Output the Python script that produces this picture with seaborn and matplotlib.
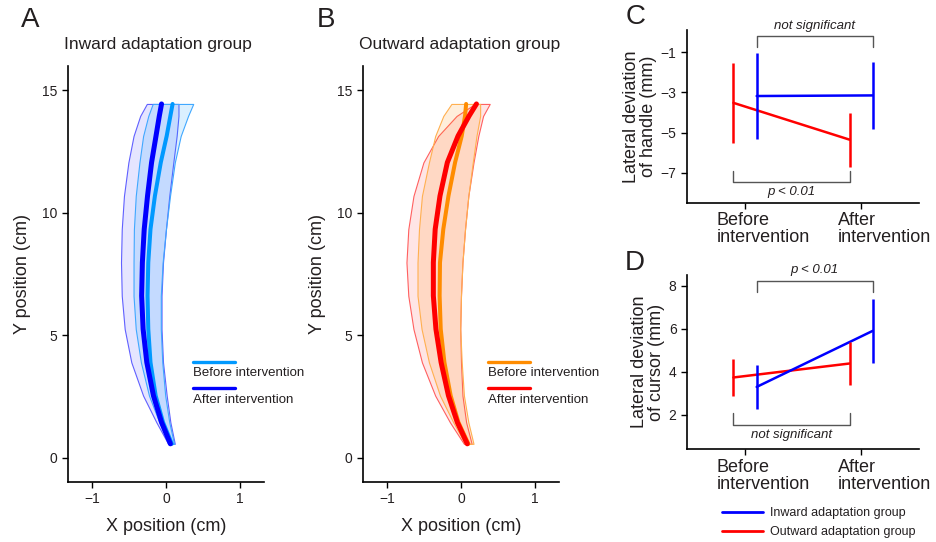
import numpy as np
import pandas as pd
import matplotlib
matplotlib.use("Agg")
import matplotlib.pyplot as plt
import matplotlib.transforms as mtransforms
from matplotlib.lines import Line2D
import seaborn as sns

sns.set_style("ticks")
plt.rcParams["font.family"] = ["Liberation Sans", "DejaVu Sans"]
plt.rcParams["axes.unicode_minus"] = True

TXT = "#231f20"

# ------------------------------------------------------------------
# DATA
# ------------------------------------------------------------------
# hand trajectories, sampled along the Y axis (cm), bottom -> top
y_pos = [0.56, 1.44, 2.53, 3.89, 5.25, 6.61, 7.97, 9.33, 10.69, 12.06,
         13.14, 13.96, 14.45]

# Inward adaptation group
in_before_mean = [0.08, -0.04, -0.14, -0.21, -0.24, -0.25, -0.24, -0.21,
                  -0.15, -0.07, 0.01, 0.06, 0.09]
in_before_lo   = [0.045, -0.09, -0.23, -0.34, -0.41, -0.44, -0.44, -0.435,
                  -0.41, -0.36, -0.31, -0.24, -0.18]
in_before_hi   = [0.11, 0.045, -0.01, -0.05, -0.07, -0.07, -0.045, 0.0,
                  0.055, 0.12, 0.20, 0.30, 0.37]
in_after_mean  = [0.06, -0.06, -0.17, -0.26, -0.31, -0.33, -0.32, -0.295,
                  -0.25, -0.195, -0.135, -0.09, -0.06]
in_after_lo    = [0.03, -0.13, -0.31, -0.47, -0.56, -0.60, -0.61, -0.60,
                  -0.57, -0.51, -0.44, -0.35, -0.26]
in_after_hi    = [0.12, 0.06, 0.01, -0.04, -0.06, -0.06, -0.04, 0.0,
                  0.045, 0.10, 0.145, 0.17, 0.17]

# Outward adaptation group
out_before_mean = [0.10, -0.035, -0.14, -0.225, -0.275, -0.29, -0.285, -0.24,
                   -0.17, -0.08, 0.01, 0.055, 0.07]
out_before_lo   = [0.055, -0.105, -0.285, -0.435, -0.535, -0.59, -0.59, -0.57,
                   -0.53, -0.435, -0.35, -0.24, -0.13]
out_before_hi   = [0.17, 0.10, 0.04, 0.01, -0.01, 0.0, 0.02, 0.055,
                   0.10, 0.16, 0.21, 0.26, 0.26]
out_after_mean  = [0.085, -0.05, -0.17, -0.27, -0.34, -0.375, -0.375, -0.35,
                   -0.285, -0.185, -0.04, 0.11, 0.21]
out_after_lo    = [0.04, -0.15, -0.35, -0.53, -0.645, -0.715, -0.74, -0.715,
                   -0.645, -0.51, -0.31, -0.06, 0.19]
out_after_hi    = [0.145, 0.07, 0.02, 0.0, -0.01, 0.0, 0.02, 0.055,
                   0.10, 0.17, 0.235, 0.30, 0.39]

# lateral deviation (mm): mean and error, before / after intervention
conditions      = ["Before\nintervention", "After\nintervention"]
groups          = ["Inward adaptation group", "Outward adaptation group"]
handle_in_mean  = [-3.18, -3.15]
handle_in_err   = [2.12, 1.65]
handle_out_mean = [-3.52, -5.35]
handle_out_err  = [1.98, 1.35]
cursor_in_mean  = [3.29, 5.9]
cursor_in_err   = [1.04, 1.5]
cursor_out_mean = [3.73, 4.38]
cursor_out_err  = [0.88, 0.98]

BLUE, LBLUE = "#0000ff", "#0099ff"
RED, ORANGE = "#ff0000", "#ff8c00"

# ------------------------------------------------------------------
# FIGURE LAYOUT
# ------------------------------------------------------------------
fig = plt.figure(figsize=(9.36, 5.42), dpi=100)
ax_a = fig.add_axes([0.0726, 0.1107, 0.2094, 0.7675])
ax_b = fig.add_axes([0.3878, 0.1107, 0.2094, 0.7675])
ax_c = fig.add_axes([0.734, 0.6255, 0.248, 0.319])
ax_d = fig.add_axes([0.734, 0.1716, 0.248, 0.321])


def style_axis(ax):
    sns.despine(ax=ax)
    for s in ("left", "bottom"):
        ax.spines[s].set_linewidth(1.2)
        ax.spines[s].set_color("black")
    ax.tick_params(direction="out", length=4, width=1.0, colors="black",
                   labelcolor=TXT, labelsize=10)


# ------------------------------------------------------------------
# PANELS A / B – trajectories
# ------------------------------------------------------------------
def trajectory_panel(ax, title, b_mean, b_lo, b_hi, a_mean, a_lo, a_hi,
                     c_before, c_after, band_a, edge_a, band_b, edge_b):
    ax.fill_betweenx(y_pos, a_lo, a_hi, facecolor=band_a, edgecolor=edge_a,
                     linewidth=0.8, zorder=1)
    ax.fill_betweenx(y_pos, b_lo, b_hi, facecolor=band_b, edgecolor=edge_b,
                     linewidth=0.8, zorder=2)
    traj = pd.DataFrame({"x_before": b_mean, "x_after": a_mean, "y": y_pos})
    sns.lineplot(data=traj, x="x_before", y="y", sort=False, estimator=None,
                 color=c_before, lw=2.9, ax=ax, zorder=3,
                 solid_joinstyle="round")
    sns.lineplot(data=traj, x="x_after", y="y", sort=False, estimator=None,
                 color=c_after, lw=3.6, ax=ax, zorder=4,
                 solid_joinstyle="round")
    ax.set_xlim(-1.33, 1.33)
    ax.set_ylim(-1, 16)
    ax.set_xticks([-1, 0, 1])
    ax.set_yticks([0, 5, 10, 15])
    ax.set_xlabel("X position (cm)", fontsize=13, color=TXT, labelpad=8)
    ax.set_ylabel("Y position (cm)", fontsize=13, color=TXT, labelpad=8)
    ax.set_title(title, fontsize=12.5, color=TXT, loc="left", x=-0.02, pad=12)
    style_axis(ax)

    # legend: key line above its label
    for yl, yt, col, lab in [(0.288, 0.262, c_before, "Before intervention"),
                             (0.226, 0.197, c_after, "After intervention")]:
        ax.plot([0.638, 0.852], [yl, yl], color=col, lw=2.4,
                transform=ax.transAxes, clip_on=False)
        ax.text(0.638, yt, lab, transform=ax.transAxes, fontsize=9.5,
                color=TXT, va="center", ha="left")


trajectory_panel(ax_a, "Inward adaptation group",
                 in_before_mean, in_before_lo, in_before_hi,
                 in_after_mean, in_after_lo, in_after_hi,
                 LBLUE, BLUE, (0, 0, 1, 0.10), "#6060ff",
                 (0, 0.6, 1, 0.14), "#40a8ff")
trajectory_panel(ax_b, "Outward adaptation group",
                 out_before_mean, out_before_lo, out_before_hi,
                 out_after_mean, out_after_lo, out_after_hi,
                 ORANGE, RED, (1, 0, 0, 0.10), "#ff6060",
                 (1, 0.55, 0, 0.14), "#ffb050")

# ------------------------------------------------------------------
# PANELS C / D – lateral deviation
# ------------------------------------------------------------------
DODGE = {"Inward adaptation group": 0.1, "Outward adaptation group": -0.1}
COLORS = {"Inward adaptation group": BLUE, "Outward adaptation group": RED}
LABEL_SHIFT = [-0.245, -0.2]   # left edge of each category label vs its tick


def deviation_panel(ax, in_mean, in_err, out_mean, out_err, ylabel, ylim,
                    yticks, top_text, bottom_text, top_y, bottom_y, text_pad):
    rows = []
    for g, means, errs in [(groups[1], out_mean, out_err),
                           (groups[0], in_mean, in_err)]:
        for i, (m, e) in enumerate(zip(means, errs)):
            rows.append({"group": g, "x": i + DODGE[g], "mean": m, "err": e})
    df = pd.DataFrame(rows)

    sns.lineplot(data=df, x="x", y="mean", hue="group", palette=COLORS,
                 lw=1.8, legend=False, ax=ax, estimator=None)
    for _, r in df.iterrows():
        ax.vlines(r["x"], r["mean"] - r["err"], r["mean"] + r["err"],
                  color=COLORS[r["group"]], lw=1.8)

    # significance brackets
    bc = "#555555"
    tick = 0.55
    # top: inward group comparison
    x0, x1 = DODGE[groups[0]], 1 + DODGE[groups[0]]
    ax.plot([x0, x0, x1, x1], [top_y - tick, top_y, top_y, top_y - tick],
            color=bc, lw=1.0, clip_on=False)
    ax.text((x0 + x1) / 2, top_y + text_pad, top_text, ha="center",
            va="center", style="italic", fontsize=9.5, color=TXT)
    # bottom: outward group comparison
    x0, x1 = DODGE[groups[1]], 1 + DODGE[groups[1]]
    ax.plot([x0, x0, x1, x1],
            [bottom_y + tick, bottom_y, bottom_y, bottom_y + tick],
            color=bc, lw=1.0, clip_on=False)
    ax.text((x0 + x1) / 2, bottom_y - text_pad, bottom_text, ha="center",
            va="center", style="italic", fontsize=9.5, color=TXT)

    ax.set_xlim(-0.5, 1.5)
    ax.set_ylim(*ylim)
    ax.set_yticks(yticks)
    ax.set_xticks([0, 1])
    ax.set_xticklabels(["", ""])
    # category labels are left-aligned a little to the left of each tick
    blend = mtransforms.blended_transform_factory(ax.transData, ax.transAxes)
    for i, lab in enumerate(conditions):
        ax.text(i + LABEL_SHIFT[i], -0.055, lab, transform=blend, ha="left",
                va="top", fontsize=13, color=TXT, linespacing=1.0)
    ax.set_xlabel("")
    ax.set_ylabel(ylabel, fontsize=13, color=TXT, labelpad=3,
                  linespacing=0.95)
    style_axis(ax)


deviation_panel(ax_c, handle_in_mean, handle_in_err,
                handle_out_mean, handle_out_err,
                "Lateral deviation\nof handle (mm)", (-8.5, 0.1), [-7, -5, -3, -1],
                "not significant", "p < 0.01", -0.2, -7.45, 0.5)
deviation_panel(ax_d, cursor_in_mean, cursor_in_err,
                cursor_out_mean, cursor_out_err,
                "Lateral deviation\nof cursor (mm)", (0.4, 8.5), [2, 4, 6, 8],
                "p < 0.01", "not significant", 8.24, 1.53, 0.5)

handles = [Line2D([], [], color=COLORS[g], lw=2.0) for g in groups]
ax_d.legend(handles, groups, loc="upper left", bbox_to_anchor=(0.151, -0.335),
            frameon=False, fontsize=9, handlelength=3.3, handletextpad=0.5,
            labelspacing=0.55, borderpad=0, borderaxespad=0,
            labelcolor=TXT)

# panel letters
for lab, x, y in [("A", 0.022, 0.94), ("B", 0.338, 0.94),
                  ("C", 0.668, 0.945), ("D", 0.668, 0.49)]:
    fig.text(x, y, lab, fontsize=20, color=TXT, ha="left", va="bottom")

fig.savefig("out.png", dpi=100)
plt.close(fig)
